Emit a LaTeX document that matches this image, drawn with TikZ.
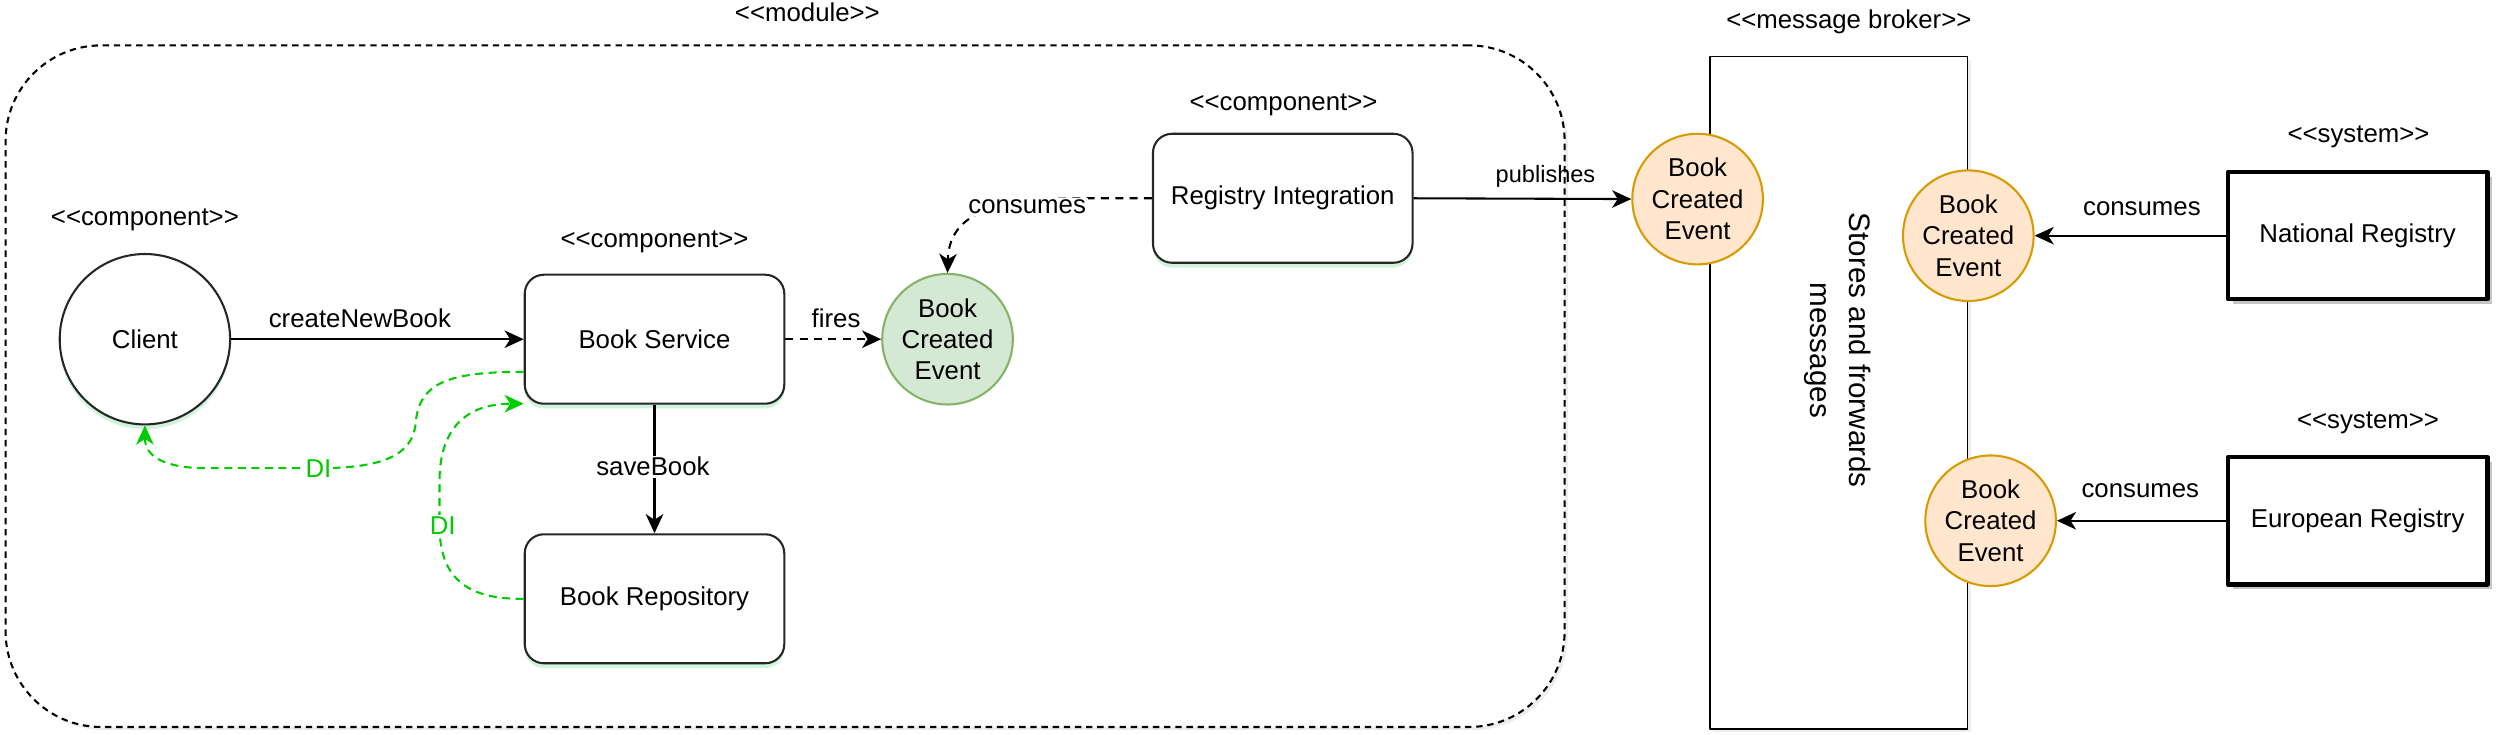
\documentclass[tikz,border=0pt]{standalone}
\usepackage{fontspec}
\newfontfamily\lab{Liberation Sans}
\usetikzlibrary{shadows,arrows.meta}
\definecolor{evgfill}{HTML}{D5E8D4}
\definecolor{evgdraw}{HTML}{82B366}
\definecolor{evofill}{HTML}{FFE6CC}
\definecolor{evodraw}{HTML}{D79B00}
\definecolor{digreen}{HTML}{00CC00}
\definecolor{glowc}{HTML}{A8EBC0}
\begin{document}
\begin{tikzpicture}[x=1pt,y=-1pt,line join=round,
  every node/.style={font=\lab\fontsize{16.2}{19.7}\selectfont, text=black},
  glow/.style={drop shadow={shadow xshift=0pt,shadow yshift=-3pt,fill=glowc,opacity=.55}},
  comp/.style={draw=black!85, line width=1.3pt, rounded corners=12pt, minimum width=163pt, minimum height=81pt, fill=white, glow},
  sysbox/.style={draw=black, line width=2.6pt, minimum width=163pt, minimum height=80pt, fill=white,
    drop shadow={shadow xshift=3pt,shadow yshift=-3pt,fill=black!45,opacity=.5}},
  ev/.style={circle, minimum size=82pt, inner sep=0pt, align=center, line width=1.3pt},
  evg/.style={ev, fill=evgfill, draw=evgdraw},
  evo/.style={ev, fill=evofill, draw=evodraw},
  arr/.style={line width=1.3pt, -{Stealth[length=12pt,width=11pt,inset=3.5pt]}},
  dsh/.style={dash pattern=on 5pt off 4pt},
  di/.style={arr, draw=digreen, dash pattern=on 5pt off 3.5pt},
  lbl/.style={fill=white, inner sep=1pt},
  dilbl/.style={fill=white, inner sep=1pt, text=digreen}]
\useasboundingbox (0,0) rectangle (1568,461.5);

% containers
\node[draw=black, fill=white, line width=1.3pt, dash pattern=on 4pt off 3pt, rounded corners=60pt,
  minimum width=979pt, minimum height=428pt,
  drop shadow={shadow xshift=2pt,shadow yshift=-2pt,fill=black!20,opacity=.35}] (module) at (493,242.5) {};
\node (modlbl) at (507,8) {<<module>>};

\node[draw=black, fill=white, line width=1.2pt, minimum width=162pt, minimum height=422pt,
  drop shadow={shadow xshift=2pt,shadow yshift=-2pt,fill=black!20,opacity=.35}] (broker) at (1154.5,246.5) {};
\node (brlbl) at (1161,14) {<<message broker>>};
\node[rotate=-90, align=center, font=\lab\fontsize{18.6}{24.5}\selectfont] (brtext) at (1154,220) {Stores and frorwards\\messages};

% components
\node[circle, draw=black!85, line width=1.3pt, minimum size=107pt, fill=white, glow] (client) at (91,213) {Client};
\node (clientlbl) at (91,138) {<<component>>};

\node[comp] (bs) at (411,213) {Book Service};
\node (bslbl) at (411,152) {<<component>>};

\node[comp] (br) at (411,376) {Book Repository};

\node[evg] (ev1) at (595,213) {Book\\Created\\Event};

\node[comp] (ri) at (805.5,124.5) {Registry Integration};
\node (rilbl) at (806,66) {<<component>>};

\node[evo] (ev2) at (1066,125) {Book\\Created\\Event};
\node[evo] (ev3) at (1236,148) {Book\\Created\\Event};
\node[evo] (ev4) at (1250,327) {Book\\Created\\Event};

\node[sysbox] (nat) at (1480.5,148) {National Registry};
\node (natlbl) at (1481,86) {<<system>>};
\node[sysbox] (eur) at (1480.5,327) {European Registry};
\node (eurlbl) at (1487,265.5) {<<system>>};

% connectors
\draw[arr] (client.east) -- (bs.west);
\draw[arr] (bs.south) -- (br.north);
\draw[arr, dsh] (bs.east) -- (ev1.west);
\draw[arr, dsh] (ri.west) -- (682,124.5) .. controls (628,124.5) and (596,132) .. (ev1.north);
\draw[arr] (ri.east) -- (ev2.west);
\draw[arr] (nat.west) -- (ev3.east);
\draw[arr] (eur.west) -- (ev4.east);

\draw[di] ([yshift=-20.5pt]bs.west) .. controls (282,233.5) and (263,240) .. (261,266)
  .. controls (259,286) and (240,294) .. (200,294) -- (130,294)
  .. controls (104,294) and (91,287) .. (client.south);
\draw[di] (br.west) .. controls (292,376.5) and (276,362) .. (276,330) -- (276,302)
  .. controls (276,270) and (292,253.5) .. ([yshift=-40.5pt]bs.west);

% labels
\node (lcnb) at (226,200) {createNewBook};
\node[lbl] (lsave) at (410,293) {saveBook};
\node (lfires) at (525,200) {fires};
\node[lbl] (lcons1) at (645,130) {consumes};
\node[font=\lab\fontsize{14.8}{18}\selectfont] (lpub) at (970.5,111) {publishes};
\node (lcons2) at (1345,131) {consumes};
\node (lcons3) at (1344,308) {consumes};
\node[dilbl] (ldi1) at (200,294) {DI};
\node[dilbl] (ldi2) at (278,330) {DI};
\end{tikzpicture}
\end{document}
